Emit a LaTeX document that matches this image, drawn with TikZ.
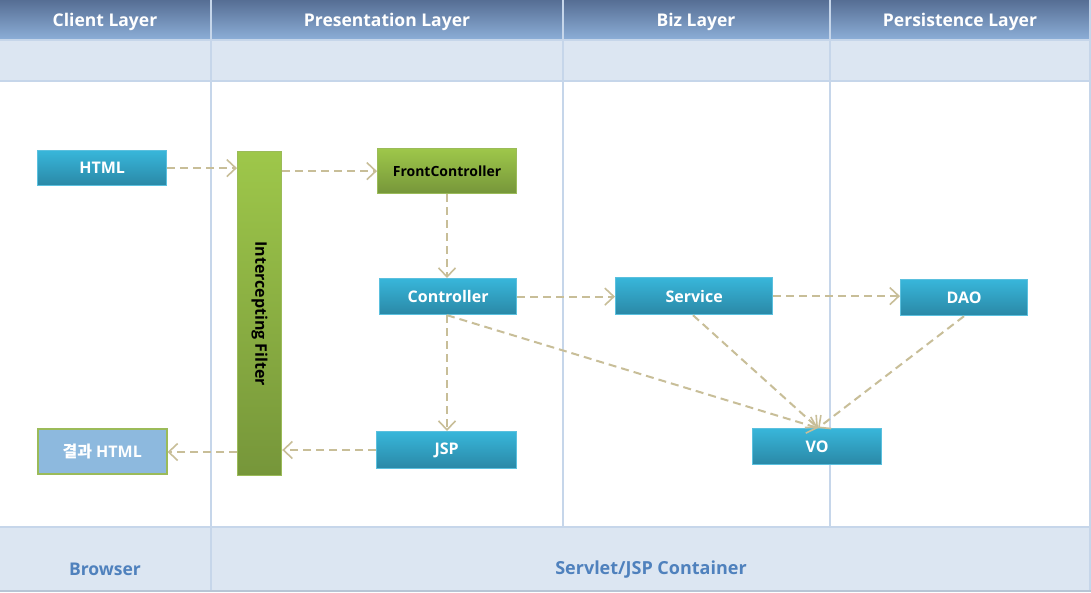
\documentclass[tikz,border=0pt]{standalone}
\usepackage{fontspec}
\setmainfont{Open Sans}
\newfontfamily\kr{Noto Sans CJK KR}
\usetikzlibrary{arrows.meta}
\definecolor{hdtop}{HTML}{566E94}
\definecolor{hdbot}{HTML}{8DAFD8}
\definecolor{pale}{HTML}{DCE6F2}
\definecolor{sep}{HTML}{C6D6EA}
\definecolor{bltop}{HTML}{38B6DA}
\definecolor{blbot}{HTML}{2A88A6}
\definecolor{blbd}{HTML}{5BC0DE}
\definecolor{grtop}{HTML}{9EC74A}
\definecolor{grbot}{HTML}{76963A}
\definecolor{grbd}{HTML}{9BBB59}
\definecolor{arr}{HTML}{C8BE98}
\definecolor{foot}{HTML}{4F81BD}
\definecolor{res}{HTML}{8DB9DE}
\begin{document}
\begin{tikzpicture}[x=1pt,y=-1pt,
  hdtext/.style={text=white,font=\bfseries\fontsize{17.5}{20}\selectfont},
  fttext/.style={text=foot,font=\bfseries\fontsize{17.5}{20}\selectfont},
  bluebox/.style={draw=blbd,line width=1.2pt,top color=bltop,bottom color=blbot,text=white,
    font=\bfseries\fontsize{16}{18}\selectfont,inner sep=0pt,anchor=north west},
  greenbox/.style={draw=grbd,line width=1.2pt,top color=grtop,bottom color=grbot,text=black,
    font=\bfseries\fontsize{14}{16}\selectfont,inner sep=0pt,anchor=north west},
  flow/.style={draw=arr,line width=2pt,dash pattern=on 8pt off 5pt,
    -{Straight Barb[length=9pt,width=17pt,line width=1.6pt]}}
]
\useasboundingbox (0,0) rectangle (1091,592);
% bands
\shade[top color=hdtop,bottom color=hdbot] (0,0) rectangle (1091,40);
\fill[pale] (0,40) rectangle (1091,81);
\fill[white] (0,81) rectangle (1091,527);
\fill[pale] (0,527) rectangle (1091,592);
\draw[sep,line width=1.5pt] (0,40) -- (1091,40);
\draw[sep,line width=2pt] (0,81) -- (1091,81);
\draw[sep,line width=2pt] (0,527) -- (1091,527);
\draw[sep,line width=1.2pt] (211,0) -- (211,592);
\foreach \xx in {563,830} \draw[sep,line width=1.2pt] (\xx,0) -- (\xx,527);
\draw[sep,line width=1.5pt] (1090,0) -- (1090,592);
\draw[sep!80!gray,line width=1.5pt] (0,591) -- (1091,591);
% headers
\node[hdtext] (h1) at (105,21.5) {Client Layer};
\node[hdtext] (h2) at (387,21.5) {Presentation Layer};
\node[hdtext] (h3) at (696,21.5) {Biz Layer};
\node[hdtext] (h4) at (960,21.5) {Persistence Layer};
\node[fttext] (f1) at (105,569) {Browser};
\node[fttext,font=\bfseries\fontsize{18}{20}\selectfont] (f2) at (651,569.5) {Servlet/JSP Container};
% boxes
\node[bluebox,minimum width=129pt,minimum height=35pt] (html) at (37,150) {HTML};
\node[greenbox,minimum width=44pt,minimum height=324pt] (filter) at (237,151) {};
\node[font=\bfseries\fontsize{16}{18}\selectfont,rotate=-90] (ftext) at (filter.center) {Intercepting Filter};
\node[greenbox,minimum width=139pt,minimum height=45pt] (fc) at (377,148) {FrontController};
\node[bluebox,minimum width=137pt,minimum height=36pt] (ctrl) at (379,278) {Controller};
\node[bluebox,minimum width=157pt,minimum height=37pt] (svc) at (615,277) {Service};
\node[bluebox,minimum width=127pt,minimum height=36pt] (dao) at (900,279) {DAO};
\node[bluebox,minimum width=129pt,minimum height=36pt] (vo) at (752,428) {VO};
\node[bluebox,minimum width=140pt,minimum height=37pt] (jsp) at (376,431) {JSP};
\node[draw=grbd,line width=1.5pt,fill=res,text=white,font=\bfseries\fontsize{16}{18}\selectfont,
  inner sep=0pt,anchor=north west,minimum width=129pt,minimum height=45pt] (res) at (37,428) {{\kr 결과} HTML};
% connectors
\coordinate (vt) at (818,428);
\draw[flow] (html.east) -- (filter.west |- html.east);
\draw[flow] (filter.east |- fc.west) -- (fc.west);
\draw[flow] (fc.south -| 447,0) -- (ctrl.north -| 447,0);
\draw[flow] (ctrl.east) -- (svc.west |- ctrl.east);
\draw[flow] (svc.east) -- (dao.west |- svc.east);
\draw[flow] (ctrl.south -| 447,0) -- (jsp.north -| 447,0);
\draw[flow] (ctrl.south -| 447,0) -- (vt);
\draw[flow] (svc.south -| 693,0) -- (vt);
\draw[flow] (dao.south -| 964,0) -- (vt);
\draw[flow] (jsp.west |- 0,450) -- (filter.east |- 0,450);
\draw[flow] (filter.west |- 0,452) -- (res.east |- 0,452);
\end{tikzpicture}
\end{document}
